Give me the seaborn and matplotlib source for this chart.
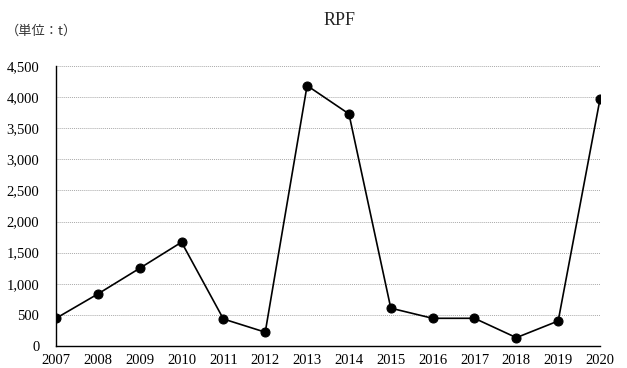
import matplotlib
matplotlib.use("Agg")
import matplotlib.pyplot as plt
import seaborn as sns
import pandas as pd

years = [2007, 2008, 2009, 2010, 2011, 2012, 2013, 2014, 2015, 2016, 2017, 2018, 2019, 2020]
values = [445, 836, 1249, 1668, 434, 222, 4185, 3730, 608, 445, 445, 134, 402, 3971]
y_ticks = [0, 500, 1000, 1500, 2000, 2500, 3000, 3500, 4000, 4500]

sns.set_theme(style="white")
plt.rcParams['font.family'] = ['Liberation Serif', 'Noto Sans CJK JP']

df = pd.DataFrame({"year": years, "value": values})

fig = plt.figure(figsize=(6.27, 3.68), dpi=100)
ax = fig.add_axes([0.0893, 0.0598, 0.957 - 0.0893, 0.8207 - 0.0598])

sns.lineplot(data=df, x="year", y="value", ax=ax, color="black", linewidth=1.2,
             marker="o", markersize=6.5, markeredgecolor="black", markerfacecolor="black")

ax.set_xlim(2007, 2020)
ax.set_ylim(0, 4500)
ax.set_yticks(y_ticks)
ax.set_yticklabels([f"{v:,}" for v in y_ticks])
ax.set_xticks(years)
ax.set_xticklabels([str(y) for y in years])
ax.yaxis.grid(True, color="#aaaaaa", linestyle=(0, (1, 1)), linewidth=0.7)
ax.xaxis.grid(False)
ax.set_axisbelow(True)
for s in ["top", "right"]:
    ax.spines[s].set_visible(False)
for s in ["left", "bottom"]:
    ax.spines[s].set_color("black")
    ax.spines[s].set_linewidth(1.0)
ax.tick_params(axis="x", direction="in", length=4, width=0.6, colors="#888888",
               labelcolor="black", labelsize=10.5, pad=6)
ax.tick_params(axis="y", length=0, labelsize=10.5, labelcolor="black", pad=12)
ax.set_xlabel("")
ax.set_ylabel("")

fig.text(0.542, 0.945, "RPF", ha="center", va="center", fontsize=13,
         family=['Liberation Serif'])
fig.text(0.010, 0.915, "（単位：t）", ha="left", va="center", fontsize=9.5,
         family=['Noto Sans CJK JP', 'Liberation Serif'], color="#333333")

fig.savefig("out.png", dpi=100)
